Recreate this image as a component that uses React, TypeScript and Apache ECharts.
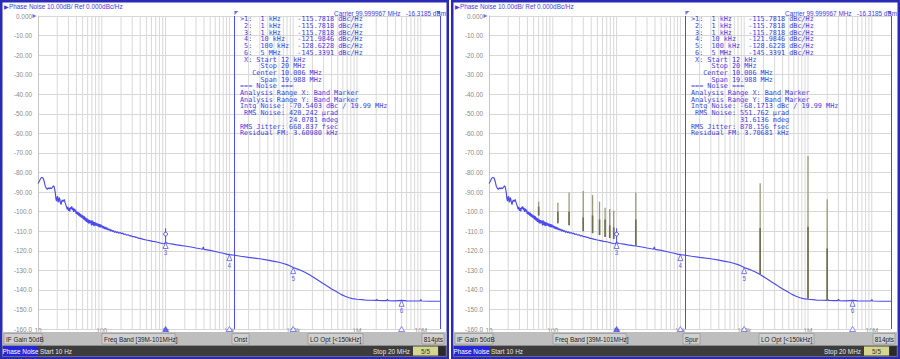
import React, { useEffect, useRef } from "react";
import * as echarts from "echarts";

// ---------- data ----------
const traceData: [number, number][] = [
  [10, -85.6], [10.5, -84.5], [11, -83], [11.5, -82.5], [12, -82.8], [12.5, -84.5], [13, -87], [13.5, -88],
  [14, -88.6], [14.5, -87.9], [15, -88.4], [15.5, -87.7], [16, -88.3], [16.5, -87.9], [17, -87.4], [17.5, -86.8],
  [17.9, -87.2], [18.3, -88.8], [18.7, -90.5], [19.1, -93.5], [19.5, -94.6], [19.9, -92.6], [20.3, -92.2], [20.7, -95.2],
  [21.1, -94.8], [21.5, -92.8], [22, -93.6], [22.5, -95.6], [23, -96.4], [23.5, -94.8], [24, -94], [24.6, -94.9],
  [25.2, -94.2], [25.8, -93.8], [26.4, -95.2], [27, -95.9], [27.5, -96.8], [28, -97], [28.7, -98.8], [29.4, -97.6],
  [30.1, -99.6], [30.8, -98.2], [31.5, -99.9], [32.2, -97.8], [33, -98.6], [33.8, -97.3], [34.6, -99.2], [35.4, -98.1],
  [36.2, -100.2], [37, -98.4], [37.8, -99.9], [38.7, -98.9], [39.6, -101.2], [40.5, -99.8], [41.4, -101.5], [42.4, -100.3],
  [43.4, -102.1], [44.4, -100.6], [45.4, -102.6], [46.5, -101.2], [47.6, -103.1], [48.7, -101.6], [49.8, -103.4], [51, -102],
  [52.2, -104.1], [53.4, -102.4], [54.6, -104.6], [55.9, -103.1], [57.2, -105.2], [58.5, -103.4], [59.9, -105.6], [61.3, -103.9],
  [62.7, -106.2], [64.2, -104.3], [65.7, -105.9], [67.2, -104.6], [68.8, -107.1], [70.4, -104.4], [72, -106.8], [73.7, -105.1],
  [75.4, -107.4], [77.2, -105.3], [79, -107.2], [80.8, -105.6], [82.7, -107.1], [84.6, -106], [86.6, -107.6], [88.6, -106.2],
  [90.7, -107.9], [92.8, -106.4], [95, -108.1], [97.2, -106.7], [99.5, -108], [102, -107.2], [104.5, -108.6], [107, -107.4],
  [110, -108.9], [113, -107.8], [116, -109.1], [119, -108.1], [122, -109.4], [126, -108.6], [130, -109.6], [134, -108.9],
  [138, -110], [142, -109.3], [147, -110.2], [152, -109.6], [158, -110.6], [164, -110], [170, -110.8], [177, -110.3],
  [185, -111.1], [193, -110.6], [202, -111.3], [212, -111], [222, -111.7], [233, -111.4], [245, -112], [258, -111.8],
  [272, -112.4], [288, -112.3], [305, -112.8], [322, -112.7], [340, -113.2], [360, -113.2], [380, -113.7], [400, -113.7],
  [450, -114.2], [500, -114.5], [560, -114.8], [630, -115.2], [700, -115.4], [800, -115.9], [880, -116.3], [950, -116.4],
  [1000, -115.8], [1100, -116.3], [1300, -116.6], [1500, -117], [1800, -117.4], [2000, -117.6], [2500, -118.1], [3000, -118.6],
  [3500, -119], [3800, -119.2], [3900, -118], [4000, -119.3], [5000, -119.8], [6000, -120.4], [7000, -120.9], [8000, -121.3],
  [9000, -121.7], [10000, -121.98], [12000, -122.3], [15000, -122.8], [20000, -123.4], [30000, -124.1], [40000, -124.8], [50000, -125.4],
  [60000, -125.9], [70000, -126.5], [80000, -127.1], [90000, -127.8], [100000, -128.6], [120000, -129.5], [150000, -130.9], [180000, -132.3],
  [220000, -134.1], [270000, -136], [330000, -137.8], [400000, -139.5], [480000, -141], [560000, -142.3], [650000, -143.3], [750000, -144],
  [850000, -144.5], [1000000, -144.8], [1200000, -145], [1400000, -145.3], [1700000, -145.3], [2000000, -145.4], [2050000, -144.8], [2100000, -145.4],
  [2500000, -145.5], [2900000, -145.5], [3000000, -144.8], [3100000, -145.5], [4000000, -145.6], [5000000, -145.34], [6000000, -145.6], [8000000, -145.7],
  [9700000, -145.7], [10000000, -145], [10300000, -145.7], [14000000, -145.8], [20000000, -145.8],
];

const decadeValues = [10, 100, 1000, 10000, 100000, 1000000, 10000000];
const decadeLabels = ["10", "100", "1k", "10k", "100k", "1M", "10M"];

const markerNames = ["3", "4", "5", "6"];
const markerFreq = [1000, 10000, 100000, 5000000];
const markerLevel = [-115.7818, -121.9846, -128.6228, -145.3391];
const activeMarker = [1000, -108.5, -116, -111.5];

const bandMarkerFreq = [12000, 20000000];
const axisMarkerFreq = [1000, 10000, 100000, 5000000];

const spurFreq = [60, 120, 180, 300, 420, 540, 660, 780, 900, 2000, 178000, 1000000, 2000000];
const spurBase = [-102, -106, -107, -110, -111, -112, -113, -113.5, -114, -117.5, -132, -144.6, -145.4];
const spurMid = [-97.5, -100, -100, -103, -102, -104, -104, -107, -108, -104, -108.4, -107.7, -118.8];
const spurTop = [-94.9, -95.4, -90.2, -89.5, -91.5, -94.9, -98, -98.7, -99.5, -90.2, -85.5, -71.6, -93.7];

const markerTable = [
  ">1:  1 kHz    -115.7818 dBc/Hz",
  " 2:  1 kHz    -115.7818 dBc/Hz",
  " 3:  1 kHz    -115.7818 dBc/Hz",
  " 4:  10 kHz   -121.9846 dBc/Hz",
  " 5:  100 kHz  -128.6228 dBc/Hz",
  " 6:  5 MHz    -145.3391 dBc/Hz",
  " X: Start 12 kHz",
  "     Stop 20 MHz",
  "   Center 10.006 MHz",
  "     Span 19.988 MHz",
  "=== Noise ===",
  "Analysis Range X: Band Marker",
  "Analysis Range Y: Band Marker",
];
const noiseLeft = [
  "Intg Noise: -70.5403 dBc / 19.99 MHz",
  " RMS Noise: 420.242 µrad",
  "            24.0781 mdeg",
  "RMS Jitter: 668.837 fsec",
  "Residual FM: 3.60980 kHz",
];
const noiseRight = [
  "Intg Noise: -68.1713 dBc / 19.99 MHz",
  " RMS Noise: 551.762 µrad",
  "            31.6136 mdeg",
  "RMS Jitter: 878.156 fsec",
  "Residual FM: 3.70681 kHz",
];
const titleText = "▶Phase Noise 10.00dB/ Ref 0.000dBc/Hz";
const carrierText = "Carrier 99.999967 MHz   -16.3185 dBm";
const statusTexts = ["IF Gain 50dB", "Freq Band [39M-101MHz]", "LO Opt [<150kHz]", "814pts"];
const modeLeft = "Onst";
const modeRight = "Spur";
const bottomTexts = ["Phase Noise", "Start 10 Hz", "Stop 20 MHz", "5/5"];

// ---------- styles ----------
const FONT = "'Liberation Sans', Arial, sans-serif";
const MONO = "'DejaVu Sans Mono', 'Liberation Mono', monospace";
const BLUE = "#3d3de6";
const TRACE = "#4a4af0";
const GRID = "#d8d8d8";
const GRAYTXT = "#8a8a8a";
const FRAME = "#2a2ab6";

const gridFreqs: number[] = [];
for (let e = 1; e <= 7; e++) {
  for (let m = 1; m <= 9; m++) {
    const f = m * Math.pow(10, e);
    if (f > 10 && f < 2e7) gridFreqs.push(f);
  }
}

function fmtX(v: number) {
  const e = Math.log10(v);
  if (Math.abs(e - Math.round(e)) > 1e-6) return "";
  const idx = decadeValues.indexOf(Math.pow(10, Math.round(e)));
  return idx >= 0 ? decadeLabels[idx] : "";
}
function fmtY(v: number) {
  if (v === 0) return "0.000";
  if (v > -100) return v.toFixed(2);
  return v.toFixed(1);
}

function txt(x: number, y: number, text: string, opts: any = {}) {
  const align = opts.align || "left";
  return {
    type: "text",
    z: opts.z ?? 50,
    silent: true,
    style: {
      x, y, text,
      fill: opts.fill || BLUE,
      fontSize: opts.fontSize || 6.4,
      fontFamily: opts.fontFamily || FONT,
      fontWeight: opts.fontWeight || "normal",
      align, textAlign: align,
      verticalAlign: "middle", textVerticalAlign: "middle",
    },
  };
}
function rect(x: number, y: number, w: number, h: number, fill: string, stroke?: string, lw = 0.6, z = 40) {
  return {
    type: "rect", z, silent: true,
    shape: { x, y, width: w, height: h },
    style: stroke ? { fill, stroke, lineWidth: lw } : { fill },
  };
}

function buildPanel(i: number, ox: number, mode: string, noise: string[], withSpurs: boolean) {
  const grid = { left: ox + 38, top: 16, width: 402, height: 313 };
  const xAxis = {
    type: "log", logBase: 10, min: 10, max: 2e7, interval: 1, gridIndex: i,
    axisLine: { show: false }, axisTick: { show: false }, splitLine: { show: false },
    axisLabel: { formatter: fmtX, color: GRAYTXT, fontSize: 6.4, fontFamily: FONT, margin: -2 },
  };
  const yAxis = {
    type: "value", min: -160, max: 0, interval: 10, gridIndex: i,
    axisLine: { show: true, lineStyle: { color: "#c6c6c6" } }, axisTick: { show: false },
    splitLine: { lineStyle: { color: GRID, width: 1 } },
    axisLabel: { formatter: fmtY, color: GRAYTXT, fontSize: 6.4, fontFamily: FONT, margin: 6 },
  };
  const series: any[] = [];
  series.push({
    type: "custom", xAxisIndex: i, yAxisIndex: i, silent: true, z: 1,
    data: gridFreqs.map((f) => [f, 0, -160]), encode: { x: 0, y: [1, 2] },
    renderItem: (_p: any, api: any) => {
      const a = api.coord([api.value(0), 0]);
      const b = api.coord([api.value(0), -160]);
      return { type: "line", shape: { x1: a[0], y1: a[1], x2: b[0], y2: b[1] }, style: { stroke: GRID, lineWidth: 1 } };
    },
  });
  series.push({
    type: "line", xAxisIndex: i, yAxisIndex: i, data: traceData, showSymbol: false, symbol: "none",
    lineStyle: { color: TRACE, width: 1.15 }, z: 3, silent: true,
    markLine: {
      silent: true, symbol: ["none", "none"], label: { show: false },
      lineStyle: { color: TRACE, width: 1, type: "solid" },
      data: bandMarkerFreq.map((f) => ({ xAxis: f })),
    },
  });
  if (withSpurs) {
    series.push({
      type: "custom", xAxisIndex: i, yAxisIndex: i, silent: true, z: 4,
      data: spurFreq.map((f, k) => [f, spurBase[k], spurMid[k], spurTop[k]]), encode: { x: 0, y: [1, 2, 3] },
      renderItem: (_p: any, api: any) => {
        const f = api.value(0);
        const b = api.coord([f, api.value(1)]);
        const m = api.coord([f, api.value(2)]);
        const t = api.coord([f, api.value(3)]);
        return {
          type: "group",
          children: [
            { type: "line", shape: { x1: b[0], y1: b[1], x2: t[0], y2: t[1] }, style: { stroke: "#9c9a78", lineWidth: 1.3 } },
            { type: "line", shape: { x1: b[0], y1: b[1], x2: m[0], y2: m[1] }, style: { stroke: "#6f6e4e", lineWidth: 1.6 } },
          ],
        };
      },
    });
  }
  series.push({
    type: "custom", xAxisIndex: i, yAxisIndex: i, silent: true, z: 6,
    data: [activeMarker], encode: { x: 0, y: [1, 2, 3] },
    renderItem: (_p: any, api: any) => {
      const f = api.value(0);
      const a = api.coord([f, api.value(1)]);
      const b = api.coord([f, api.value(2)]);
      const c = api.coord([f, api.value(3)]);
      return {
        type: "group",
        children: [
          { type: "line", shape: { x1: a[0], y1: a[1], x2: b[0], y2: b[1] }, style: { stroke: TRACE, lineWidth: 1 } },
          { type: "circle", shape: { cx: c[0], cy: c[1], r: 1.9 }, style: { fill: "#fff", stroke: TRACE, lineWidth: 1 } },
        ],
      };
    },
  });
  series.push({
    type: "scatter", xAxisIndex: i, yAxisIndex: i, silent: true, z: 7, clip: false,
    data: markerFreq.map((f, k) => ({ value: [f, markerLevel[k]], name: markerNames[k] })),
    symbol: "triangle", symbolSize: [5, 6], symbolOffset: [0, 3],
    itemStyle: { color: "#ffffff", borderColor: TRACE, borderWidth: 0.9 },
    label: { show: true, position: "bottom", distance: 1, formatter: (p: any) => p.name, color: BLUE, fontSize: 6.4, fontFamily: FONT },
  });
  series.push({
    type: "scatter", xAxisIndex: i, yAxisIndex: i, silent: true, z: 7, clip: false,
    data: axisMarkerFreq.map((f, k) => ({
      value: [f, -160],
      itemStyle: k === 0 ? { color: TRACE, borderColor: TRACE, borderWidth: 0.8 } : { color: "#ffffff", borderColor: TRACE, borderWidth: 0.8 },
    })),
    symbol: "triangle", symbolSize: [6, 5], symbolOffset: [0, 0],
  });
  series.push({
    type: "scatter", xAxisIndex: i, yAxisIndex: i, silent: true, z: 7, clip: false,
    data: [
      { value: [bandMarkerFreq[0], 0], symbol: "path://M0,0L4,0L0,4Z", symbolOffset: [2, -3] },
      { value: [bandMarkerFreq[1], 0], symbol: "path://M4,0L0,0L4,4Z", symbolOffset: [-2, -3] },
      { value: [10, 0], symbol: "path://M0,0L4,2L0,4Z", symbolOffset: [-3.5, 0] },
    ],
    symbolSize: [4, 4],
    itemStyle: { color: TRACE },
  });

  const g: any[] = [];
  g.push({
    type: "rect", z: -10, silent: true,
    shape: { x: ox + 1.25, y: 1.25, width: 446.5, height: 356.5 },
    style: { fill: "#ffffff", stroke: FRAME, lineWidth: 2.5 },
  });
  g.push(txt(ox + 4, 6, titleText, { fill: BLUE }));
  g.push(txt(ox + 446, 13, carrierText, { fill: BLUE, align: "right" }));
  const lines = markerTable.concat(noise);
  lines.forEach((l, k) => {
    g.push(txt(ox + 240, 19.3 + k * 6.7, l, { fill: BLUE, fontFamily: MONO, fontSize: 6.8 }));
  });
  // status bar
  g.push(rect(ox + 2.5, 332, 444, 13.5, "#bebebe"));
  g.push(rect(ox + 4, 333.5, 38, 10.5, "#d0d0d0", "#8c8c8c"));
  g.push(rect(ox + 102, 333.5, 73, 10.5, "#d0d0d0", "#8c8c8c"));
  g.push(rect(ox + 232, 333.5, 17, 10.5, "#d0d0d0", "#8c8c8c"));
  g.push(rect(ox + 308, 333.5, 55, 10.5, "#d0d0d0", "#8c8c8c"));
  g.push(rect(ox + 422, 333.5, 22, 10.5, "#d0d0d0", "#8c8c8c"));
  g.push(txt(ox + 6, 339, statusTexts[0], { fill: "#222" }));
  g.push(txt(ox + 104, 339, statusTexts[1], { fill: "#222" }));
  g.push(txt(ox + 240.5, 339, mode, { fill: "#222", align: "center" }));
  g.push(txt(ox + 310, 339, statusTexts[2], { fill: "#222" }));
  g.push(txt(ox + 443, 339, statusTexts[3], { fill: "#222", align: "right" }));
  // bottom bar
  g.push(rect(ox + 2.5, 345.5, 444, 11, "#3c3c3c"));
  g.push(rect(ox + 3, 346, 35, 10, "#2626d8"));
  g.push(txt(ox + 20.5, 351, bottomTexts[0], { fill: "#ffffff", align: "center" }));
  g.push(txt(ox + 40, 351, bottomTexts[1], { fill: "#e8e8e8" }));
  g.push(txt(ox + 410, 351, bottomTexts[2], { fill: "#e8e8e8", align: "right" }));
  g.push(rect(ox + 413, 346.5, 25, 9, "#d6d68e"));
  g.push(txt(ox + 425.5, 351, bottomTexts[3], { fill: "#333", align: "center" }));
  g.push(rect(ox + 439, 346.5, 6, 9, "#2a2a2a"));

  return { grid, xAxis, yAxis, series, g };
}

export default function App() {
  const ref = useRef<HTMLDivElement>(null);
  useEffect(() => {
    document.body.style.margin = "0";
    if (!ref.current) return;
    const chart = echarts.init(ref.current, undefined, { renderer: "svg" });
    const p0 = buildPanel(0, 0, modeLeft, noiseLeft, false);
    const p1 = buildPanel(1, 451, modeRight, noiseRight, true);
    const option: any = {
      animation: false,
      backgroundColor: "#ffffff",
      grid: [p0.grid, p1.grid],
      xAxis: [p0.xAxis, p1.xAxis],
      yAxis: [p0.yAxis, p1.yAxis],
      series: [...p0.series, ...p1.series],
      graphic: [...p0.g, ...p1.g],
    };
    chart.setOption(option);
    return () => chart.dispose();
  }, []);
  return <div ref={ref} style={{ position: "absolute", left: 0, top: 0, width: 900, height: 359 }} />;
}
